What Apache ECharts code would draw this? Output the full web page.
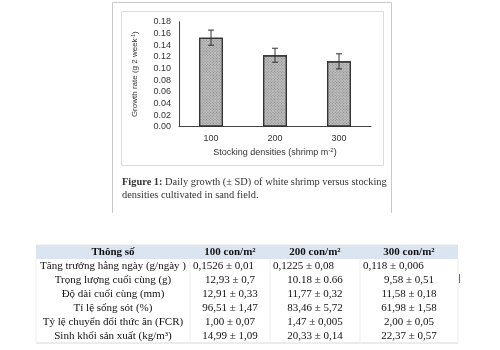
<!DOCTYPE html>
<html>
<head>
<meta charset="utf-8">
<script src="https://cdn.jsdelivr.net/npm/echarts@6/dist/echarts.min.js"></script>
<style>
html, body { margin: 0; padding: 0; background: #fff; }
#container { width: 500px; height: 350px; }
</style>
</head>
<body>
<div id="container"></div>
<script>
// chart data
var categories = ['100', '200', '300'];
var growth = [0.1526, 0.1225, 0.112];
var sd = [0.013, 0.012, 0.013];
var yTicks = { min: 0, max: 0.18, interval: 0.02 };

// table data
var tableHeader = ['Thông số', '100 con/m²', '200 con/m²', '300 con/m²'];
var tableRows = [
    ['Tăng trưởng hằng ngày (g/ngày )', '0,1526 ± 0,01', '0,1225 ± 0,08', '0,118 ± 0,006'],
    ['Trọng lượng cuối cùng (g)', '12,93 ± 0,7', '10.18 ± 0.66', '9,58 ± 0,51'],
    ['Độ dài cuối cùng (mm)', '12,91 ± 0,33', '11,77 ± 0,32', '11,58 ± 0,18'],
    ['Tỉ lệ sống sót (%)', '96,51 ± 1,47', '83,46 ± 5,72', '61,98 ± 1,58'],
    ['Tỷ lệ chuyển đổi thức ăn (FCR)', '1,00 ± 0,07', '1,47 ± 0,005', '2,00 ± 0,05'],
    ['Sinh khối sản xuất (kg/m³)', '14,99 ± 1,09', '20,33 ± 0,14', '22,37 ± 0,57']
];

var dom = document.getElementById('container');
var myChart = echarts.init(dom);

// table layout
var colX = [36, 190, 270, 360, 458];
var headTop = 245, rowH = 14;
var serif = '"Liberation Serif", "Times New Roman", serif';
var tableEls = [];
tableEls.push({
    type: 'rect', shape: { x: colX[0], y: headTop, width: colX[4] - colX[0], height: rowH },
    style: { fill: '#dbe5f1' }, silent: true
});
for (var c = 0; c < tableHeader.length; c++) {
    tableEls.push({
        type: 'text',
        x: (colX[c] + colX[c + 1]) / 2, y: headTop + rowH / 2,
        style: { text: tableHeader[c], font: 'bold 11px ' + serif, fill: '#111', align: 'center', verticalAlign: 'middle' }
    });
}
for (var r = 0; r < tableRows.length; r++) {
    var cy = headTop + rowH * (r + 1) + rowH / 2;
    for (var c = 0; c < 4; c++) {
        var left = (r === 0 && c > 0);
        tableEls.push({
            type: 'text',
            x: left ? colX[c] + 3 : (colX[c] + colX[c + 1]) / 2, y: cy,
            style: { text: tableRows[r][c], font: '11px ' + serif, fill: '#111', align: left ? 'left' : 'center', verticalAlign: 'middle' }
        });
    }
}
var tableBottom = headTop + rowH * (tableRows.length + 1);
tableEls.push({ type: 'line', shape: { x1: colX[0], y1: tableBottom, x2: colX[4], y2: tableBottom }, style: { stroke: '#d8d8d8', lineWidth: 1 } });
tableEls.push({ type: 'line', shape: { x1: colX[0], y1: headTop, x2: colX[4], y2: headTop }, style: { stroke: '#e4e4e4', lineWidth: 1 } });
for (var c = 0; c < 5; c++) {
    tableEls.push({ type: 'line', shape: { x1: colX[c], y1: headTop + rowH, x2: colX[c], y2: tableBottom }, style: { stroke: '#eeeeee', lineWidth: 1 } });
}
tableEls.push({ type: 'line', shape: { x1: 459.5, y1: 274, x2: 459.5, y2: 283 }, style: { stroke: '#666', lineWidth: 1 } });

var option = {
    backgroundColor: '#fff',
    animation: false,
    graphic: [
        // figure frame
        { type: 'polyline', z: -10, shape: { points: [[112.5, 213], [112.5, 2.5], [391.5, 2.5], [391.5, 213]] }, style: { fill: null, stroke: '#c8c8c8', lineWidth: 1 } },
        { type: 'rect', z: -9, shape: { x: 121.5, y: 11.5, width: 262, height: 154 }, style: { fill: '#fff', stroke: '#dcdcdc', lineWidth: 1 } },
        // caption
        {
            type: 'text', x: 122, y: 176,
            style: {
                text: '{b|Figure 1:} Daily growth (± SD) of white shrimp versus stocking\ndensities cultivated in sand field.',
                font: '10.4px ' + serif, fill: '#333', lineHeight: 13,
                rich: { b: { fontWeight: 'bold', fontSize: 10.4, fontFamily: serif, fill: '#333' } }
            }
        }
    ].concat(tableEls),
    grid: { left: 179, top: 21.7, width: 192, height: 105 },
    xAxis: {
        type: 'category',
        data: categories,
        axisLine: { lineStyle: { color: '#444', width: 1 } },
        axisTick: { show: false },
        axisLabel: { color: '#333', fontSize: 9, fontFamily: 'Liberation Sans', margin: 7 },
        name: 'Stocking densities (shrimp m{s|-2})',
        nameLocation: 'middle',
        nameGap: 21,
        nameTextStyle: {
            color: '#333', fontSize: 9, fontFamily: 'Liberation Sans',
            rich: { s: { fontSize: 6, fontFamily: 'Liberation Sans', color: '#333', verticalAlign: 'top' } }
        }
    },
    yAxis: {
        type: 'value',
        min: yTicks.min, max: yTicks.max, interval: yTicks.interval,
        axisLine: { show: true, lineStyle: { color: '#444', width: 1 } },
        axisTick: { show: false },
        splitLine: { show: false },
        axisLabel: {
            color: '#333', fontSize: 9, fontFamily: 'Liberation Sans', margin: 8,
            formatter: function (v) { return v.toFixed(2); }
        },
        name: 'Growth rate (g 2 week{s|-1})',
        nameLocation: 'middle',
        nameGap: 40,
        nameTextStyle: {
            color: '#333', fontSize: 8, fontFamily: 'Liberation Sans',
            rich: { s: { fontSize: 5, fontFamily: 'Liberation Sans', color: '#333', verticalAlign: 'top' } }
        }
    },
    series: [{
        type: 'bar',
        data: growth,
        barWidth: 24,
        itemStyle: {
            color: '#bdbdbd', borderColor: '#333', borderWidth: 1.2,
            decal: { symbol: 'rect', symbolSize: 1, color: 'rgba(60,60,60,0.4)', dashArrayX: [1, 1], dashArrayY: [1, 1], rotation: 0.785 }
        },
        silent: true
    }, {
        type: 'custom',
        data: growth.map(function (v, i) { return [i, v, sd[i]]; }),
        renderItem: function (params, api) {
            var hi = api.coord([api.value(0), api.value(1) + api.value(2)]);
            var lo = api.coord([api.value(0), api.value(1) - api.value(2)]);
            var st = { stroke: '#333', lineWidth: 1 };
            return {
                type: 'group',
                children: [
                    { type: 'line', shape: { x1: hi[0], y1: hi[1], x2: lo[0], y2: lo[1] }, style: st },
                    { type: 'line', shape: { x1: hi[0] - 3, y1: hi[1], x2: hi[0] + 3, y2: hi[1] }, style: st },
                    { type: 'line', shape: { x1: lo[0] - 3, y1: lo[1], x2: lo[0] + 3, y2: lo[1] }, style: st }
                ]
            };
        },
        z: 5,
        silent: true
    }]
};

myChart.setOption(option);
</script>
</body>
</html>
